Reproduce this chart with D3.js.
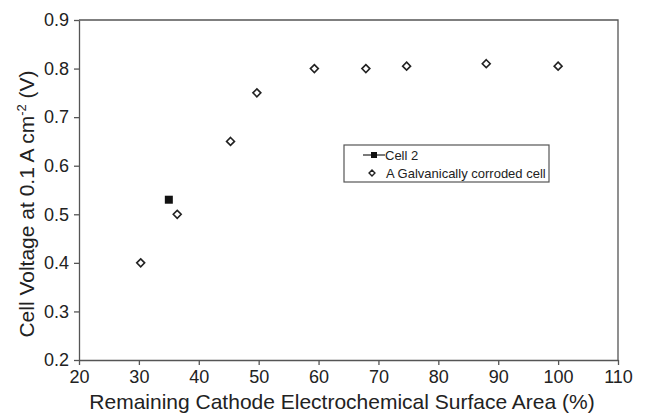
<!DOCTYPE html>
<html lang="en">
<head>
    <meta charset="UTF-8">
    <title>Cell voltage vs remaining ECSA</title>
    <style>
        body{ margin:0; background:#fff; }
        svg{ display:block; font-family:"Liberation Sans", Arial, sans-serif; }
        .axis path, .axis line{ stroke:#555; stroke-width:1.3px; }
        .axis text{ fill:#222; font-size:18px; font-family:"Liberation Sans", Arial, sans-serif; }
    </style>
    <script src="https://cdn.jsdelivr.net/npm/d3@7"></script>
</head>
<body>
<svg id="svg_main"></svg>
<script>
    // data
    const cell2X = [35];
    const cell2Y = [0.53];
    const corrodedX = [30.3, 36.4, 45.3, 49.7, 59.3, 67.9, 74.7, 88, 100];
    const corrodedY = [0.40, 0.50, 0.65, 0.75, 0.80, 0.80, 0.805, 0.81, 0.805];
    const xTicks = [20, 30, 40, 50, 60, 70, 80, 90, 100, 110];
    const yTicks = [0.2, 0.3, 0.4, 0.5, 0.6, 0.7, 0.8, 0.9];
    const legendLabels = ["Cell 2", "A Galvanically corroded cell"];

    const width = 647, height = 416;
    const plotL = 79, plotR = 618, plotT = 20, plotB = 360;

    let svg = d3.select('#svg_main').attr('width', width).attr('height', height);

    let x = d3.scaleLinear().domain([20, 110]).range([plotL, plotR]);
    let y = d3.scaleLinear().domain([0.2, 0.9]).range([plotB, plotT]);

    // frame (top and right borders)
    svg.append('path')
        .attr('d', `M${plotL},${plotT}H${plotR}V${plotB}`)
        .attr('fill', 'none').attr('stroke', '#555').attr('stroke-width', 1.3);

    svg.append('g').attr('class', 'axis')
        .attr('transform', `translate(0,${plotB})`)
        .call(d3.axisBottom(x).tickValues(xTicks).tickSize(5).tickSizeOuter(0).tickPadding(5));

    svg.append('g').attr('class', 'axis')
        .attr('transform', `translate(${plotL},0)`)
        .call(d3.axisLeft(y).tickValues(yTicks).tickSize(5).tickSizeOuter(0).tickPadding(5)
            .tickFormat(d3.format('.1f')));

    // axis titles
    svg.append('text')
        .attr('x', 342).attr('y', 409)
        .attr('text-anchor', 'middle').attr('font-size', 21).attr('fill', '#222')
        .text('Remaining Cathode Electrochemical Surface Area (%)');

    let yl = svg.append('text')
        .attr('transform', `translate(34,204) rotate(-90)`)
        .attr('text-anchor', 'middle').attr('font-size', 21).attr('fill', '#222');
    yl.append('tspan').text('Cell Voltage at 0.1 A cm');
    yl.append('tspan').attr('dy', -8).attr('font-size', 13).text('-2');
    yl.append('tspan').attr('dy', 8).text(' (V)');

    // markers
    const diamond = d3.symbol().type(d3.symbolDiamond2).size(40);

    svg.append('g').selectAll('path')
        .data(d3.zip(corrodedX, corrodedY))
        .join('path')
        .attr('transform', d => `translate(${x(d[0])},${y(d[1])})`)
        .attr('d', diamond)
        .attr('fill', '#fff').attr('stroke', '#222').attr('stroke-width', 1.6);

    svg.append('g').selectAll('rect')
        .data(d3.zip(cell2X, cell2Y))
        .join('rect')
        .attr('x', d => x(d[0]) - 4).attr('y', d => y(d[1]) - 4)
        .attr('width', 8).attr('height', 8)
        .attr('fill', '#111');

    // legend
    let lg = svg.append('g');
    lg.append('rect')
        .attr('x', 344).attr('y', 145).attr('width', 205).attr('height', 37)
        .attr('fill', '#fff').attr('stroke', '#555').attr('stroke-width', 1.2);
    lg.append('line')
        .attr('x1', 363).attr('x2', 385).attr('y1', 155).attr('y2', 155)
        .attr('stroke', '#222').attr('stroke-width', 1.2);
    lg.append('rect')
        .attr('x', 371).attr('y', 152).attr('width', 6).attr('height', 6).attr('fill', '#111');
    lg.append('path')
        .attr('transform', 'translate(372,173)')
        .attr('d', d3.symbol().type(d3.symbolDiamond2).size(22))
        .attr('fill', '#fff').attr('stroke', '#222').attr('stroke-width', 1.4);
    lg.selectAll('text.lab')
        .data(legendLabels)
        .join('text').attr('class', 'lab')
        .attr('x', (d, i) => i === 0 ? 385 : 386)
        .attr('y', (d, i) => 160 + i * 18)
        .attr('font-size', 13).attr('fill', '#222')
        .text(d => d);
</script>
</body>
</html>
